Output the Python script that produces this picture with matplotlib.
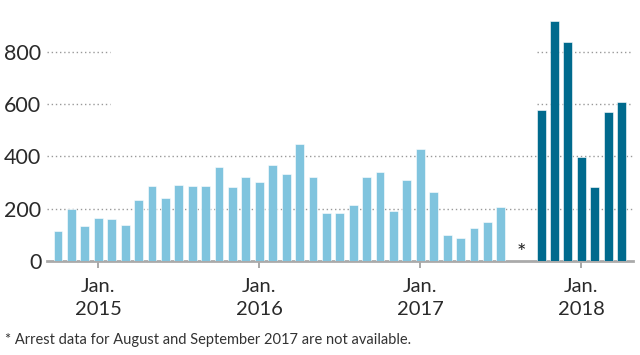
import matplotlib
matplotlib.use('Agg')
import matplotlib.pyplot as plt
import pandas as pd

plt.rcParams['font.family'] = ['Lato', 'DejaVu Sans']

# monthly arrests, Oct 2014 - Apr 2018 (Aug/Sep 2017 missing)
months = pd.period_range('2014-10', '2018-04', freq='M')
arrests = [116, 199, 132,
           164, 161, 138, 233, 286, 242, 289, 286, 287, 358, 283, 322,
           303, 366, 331, 446, 321, 182, 182, 214, 322, 340, 192, 309,
           429, 264, 98, 88, 125, 149, 205, None, None, 575, 917, 838,
           396, 283, 568, 608]
tick_years = ['2015', '2016', '2017', '2018']
yticks = [0, 200, 400, 600, 800]
note = '* Arrest data for August and September 2017 are not available.'

light = '#80c4de'
dark = '#006a8d'
split = pd.Period('2017-10', freq='M')

fig = plt.figure(figsize=(6.4, 3.55), dpi=100)
ax = fig.add_axes([47/640, 1-261/355, (633-47)/640, 250/355])

for i, (m, v) in enumerate(zip(months, arrests)):
    if v is None:
        continue
    c = dark if m >= split else light
    ax.bar(i, v, width=0.66, color=c, edgecolor='white', linewidth=0.4, zorder=3)

# dotted gridlines (upper ones broken in the middle)
dots = dict(ls=(0, (1, 2)), color='#999999', lw=1, zorder=1)
for y in yticks[1:]:
    if y >= 600:
        ax.plot([-0.85, 3.9], [y, y], **dots)
        ax.plot([35.7, 42.85], [y, y], **dots)
    else:
        ax.plot([-0.85, 42.85], [y, y], **dots)

# missing data marker
gap = [i for i, v in enumerate(arrests) if v is None]
ax.text(sum(gap)/len(gap), 30, '*', ha='center', va='center', fontsize=16, color='#222222')

ax.set_xlim(-0.82, 42.85)
ax.set_ylim(0, 955)
for s in ['top', 'right', 'left']:
    ax.spines[s].set_visible(False)
ax.spines['bottom'].set_color('#aaaaaa')
ax.spines['bottom'].set_linewidth(2)

jan_idx = [i for i, m in enumerate(months) if m.month == 1]
ax.set_xticks(jan_idx)
ax.set_xticklabels(['Jan.\n' + y for y in tick_years], fontsize=14.5, color='#2a2a2a', linespacing=1.45)
ax.tick_params(axis='x', length=5, width=1.2, color='#999999', pad=7)
ax.set_yticks(yticks)
ax.set_yticklabels([str(v) for v in yticks], fontsize=15.5, color='#2a2a2a')
ax.tick_params(axis='y', length=0, pad=4)

fig.text(5/640, 1-340/355, note, fontsize=10.5, color='#333333', va='center', ha='left')

fig.savefig('out.png', dpi=100)
